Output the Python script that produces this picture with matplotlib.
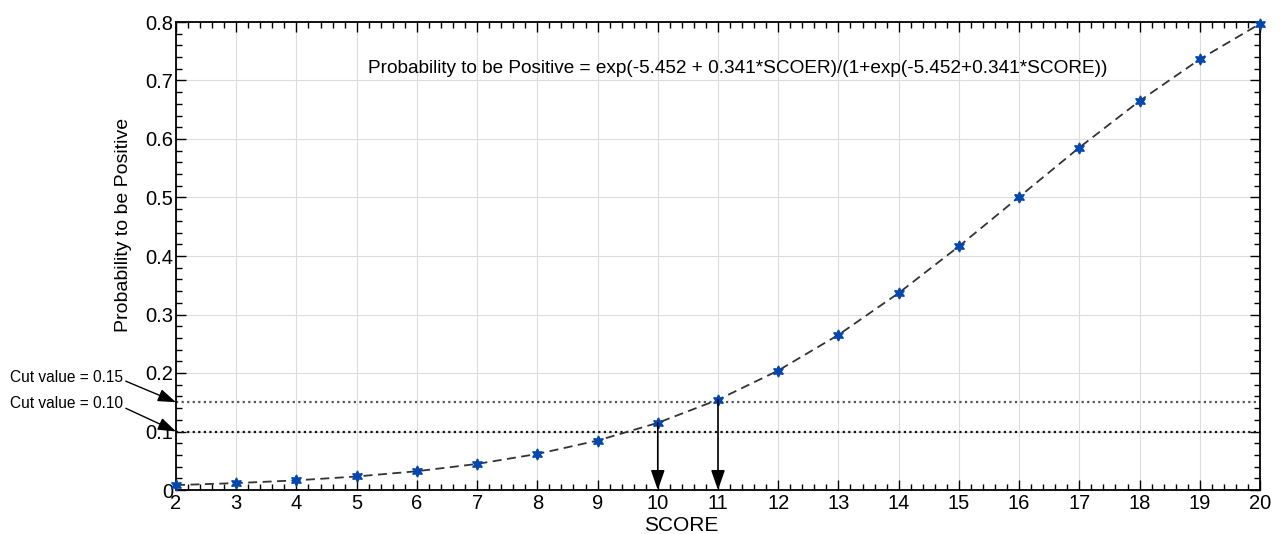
import matplotlib
matplotlib.use("Agg")
import matplotlib.pyplot as plt
from matplotlib.ticker import MultipleLocator, FuncFormatter

plt.rcParams['font.family'] = ['Liberation Sans', 'DejaVu Sans']

score = [2, 3, 4, 5, 6, 7, 8, 9, 10, 11, 12, 13, 14, 15, 16, 17, 18, 19, 20]
prob = [0.0084, 0.0118, 0.0165, 0.0231, 0.0321, 0.0446, 0.0616, 0.0845, 0.1148,
        0.1543, 0.2042, 0.2652, 0.3367, 0.4165, 0.5010, 0.5854, 0.6650, 0.7363, 0.7970]
cut_values = [0.15, 0.10]
cut_labels = ["Cut value = 0.15", "Cut value = 0.10"]
cut_scores = [10, 11]
formula = "Probability to be Positive = exp(-5.452 + 0.341*SCOER)/(1+exp(-5.452+0.341*SCORE))"

fig = plt.figure(figsize=(12.85, 5.34), dpi=100)
ax = fig.add_axes([176/1285, 1-490/534, (1260-176)/1285, (490-22)/534])

ax.plot(score, prob, linestyle=(0, (5, 3)), color='#333333', linewidth=1.3, zorder=3)
ax.plot(score, prob, linestyle='none', marker=(6, 1, 0), markersize=8,
        color='#0047b3', markeredgecolor='#0047b3', zorder=4, clip_on=False)

# cut lines
ax.axhline(cut_values[0], color='#555555', linestyle=(0, (1, 1.5)), linewidth=1.6, zorder=2)
ax.axhline(cut_values[1], color='#111111', linestyle=(0, (1, 1.5)), linewidth=1.6, zorder=2)

# vertical arrows
for s in cut_scores:
    p = prob[score.index(s)]
    ax.annotate("", xy=(s, 0), xytext=(s, p),
                arrowprops=dict(arrowstyle='-|>,head_width=0.35,head_length=1.0',
                                color='black', lw=1.2,
                                mutation_scale=12, shrinkA=0, shrinkB=0), zorder=5)

# cut labels with arrows
text_y = [377, 404]
for cv, lab, ty in zip(cut_values, cut_labels, text_y):
    ax.annotate(lab, xy=(2, cv), xycoords='data',
                xytext=(10/1285, 1-ty/534), textcoords='figure fraction',
                fontsize=11.2, ha='left', va='center',
                arrowprops=dict(arrowstyle='-|>,head_width=0.35,head_length=1.0',
                                color='black', lw=1.0,
                                mutation_scale=11, shrinkA=0, shrinkB=0,
                                relpos=(1.0, 0.3)),
                annotation_clip=False)

ax.text(11.33, 0.721, formula, fontsize=13.7, ha='center', va='center')

ax.set_xlim(2, 20)
ax.set_ylim(0, 0.8)
ax.xaxis.set_major_locator(MultipleLocator(1))
ax.xaxis.set_minor_locator(MultipleLocator(0.2))
ax.yaxis.set_major_locator(MultipleLocator(0.1))
ax.yaxis.set_minor_locator(MultipleLocator(0.02))
ax.yaxis.set_major_formatter(FuncFormatter(lambda v, p: "0" if abs(v) < 1e-9 else f"{v:.1f}"))

ax.tick_params(which='both', direction='in', top=True, right=True, labelsize=14.5, pad=2)
ax.tick_params(which='major', length=7, width=1)
ax.tick_params(which='minor', length=4, width=1)
ax.tick_params(axis='x', which='major', pad=3)
ax.grid(True, which='major', color='#dcdcdc', linewidth=0.8)
ax.set_axisbelow(True)
for sp in ax.spines.values():
    sp.set_linewidth(1.3)

ax.set_xlabel("SCORE", fontsize=15, labelpad=0)
ax.xaxis.set_label_coords((681-176)/1084, -0.055)
ax.set_ylabel("Probability to be Positive", fontsize=14, labelpad=10)
ax.yaxis.set_label_coords(-(176-132)/1084, (490-225)/468)

fig.savefig("out.png", dpi=100)
